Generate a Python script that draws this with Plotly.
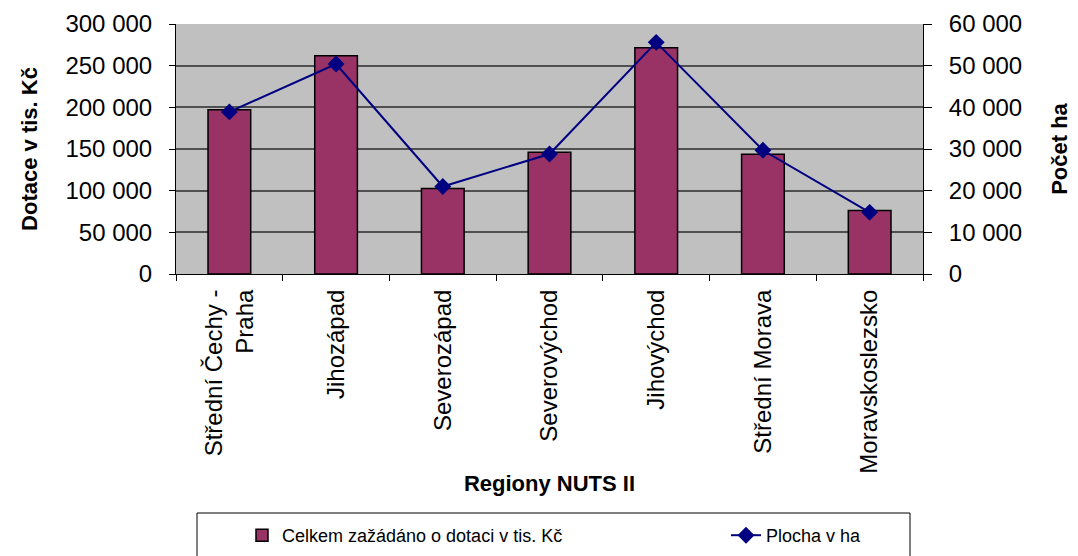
import plotly.graph_objects as go

categories = ["Střední Čechy -<br>Praha", "Jihozápad", "Severozápad", "Severovýchod",
              "Jihovýchod", "Střední Morava", "Moravskoslezsko"]
dotace = [197000, 262000, 102500, 146000, 271500, 143800, 76200]
plocha = [38900, 50400, 21000, 28800, 55600, 29700, 14800]

bar_name = "Celkem zažádáno o dotaci v tis. Kč"
line_name = "Plocha v ha"

FONT = "Liberation Sans, Arial, sans-serif"

fig = go.Figure()
fig.add_trace(go.Bar(
    x=categories, y=dotace, name=bar_name,
    marker=dict(color="#993366", line=dict(color="#000000", width=1.5)),
    yaxis="y", legend="legend",
))
fig.add_trace(go.Scatter(
    x=categories, y=plocha, name=line_name, mode="lines+markers",
    line=dict(color="#000080", width=2),
    marker=dict(symbol="diamond", size=13, color="#000080"),
    yaxis="y2", legend="legend2",
))

legend_common = dict(
    orientation="h", yanchor="top", xanchor="left",
    font=dict(size=18), bgcolor="rgba(0,0,0,0)", borderwidth=0,
)

fig.update_layout(
    width=1070, height=548,
    margin=dict(l=168, r=155, t=16, b=282, autoexpand=False),
    paper_bgcolor="white",
    plot_bgcolor="#c0c0c0",
    separators=", ",
    font=dict(family=FONT, size=22, color="#000000"),
    bargap=0.6,
    showlegend=True,
    xaxis=dict(
        type="category",
        showline=True, linecolor="#000000", linewidth=1,
        ticks="outside", ticklen=6, tickcolor="#000000", tickson="boundaries",
        tickangle=-90, tickfont=dict(size=24),
        ticklabelstandoff=5,
        showgrid=False,
        title=dict(text="<b>Regiony NUTS II</b>", font=dict(size=22), standoff=2),
    ),
    yaxis=dict(
        range=[0, 300000], dtick=50000, tickformat=",d",
        showline=True, linecolor="#000000", linewidth=1,
        ticks="outside", ticklen=6, tickcolor="#000000",
        tickfont=dict(size=24), ticklabelstandoff=12,
        showgrid=True, gridcolor="#505050", gridwidth=1.5,
        zeroline=False,
        title=dict(text="<b>Dotace v tis. Kč</b>", font=dict(size=22), standoff=21),
    ),
    yaxis2=dict(
        range=[0, 60000], dtick=10000, tickformat=",d",
        overlaying="y", side="right",
        showline=True, linecolor="#000000", linewidth=1,
        ticks="outside", ticklen=8, tickcolor="#000000",
        tickfont=dict(size=24), ticklabelstandoff=12,
        showgrid=False, zeroline=False,
        title=dict(text="<b>Počet ha</b>", font=dict(size=22), standoff=30),
    ),
    legend=dict(x=(283 - 41 - 176) / 747, y=-0.972, **legend_common),
    legend2=dict(x=(767 - 41 - 176) / 747, y=-0.972, **legend_common),
    shapes=[dict(type="rect", xref="paper", yref="paper",
                 x0=(197 - 176) / 747, x1=(910 - 176) / 747,
                 y0=(274 - 560) / 250, y1=(274 - 513) / 250,
                 line=dict(color="#000000", width=1), fillcolor="rgba(0,0,0,0)",
                 layer="below")],
)

fig.write_html("out.html")
